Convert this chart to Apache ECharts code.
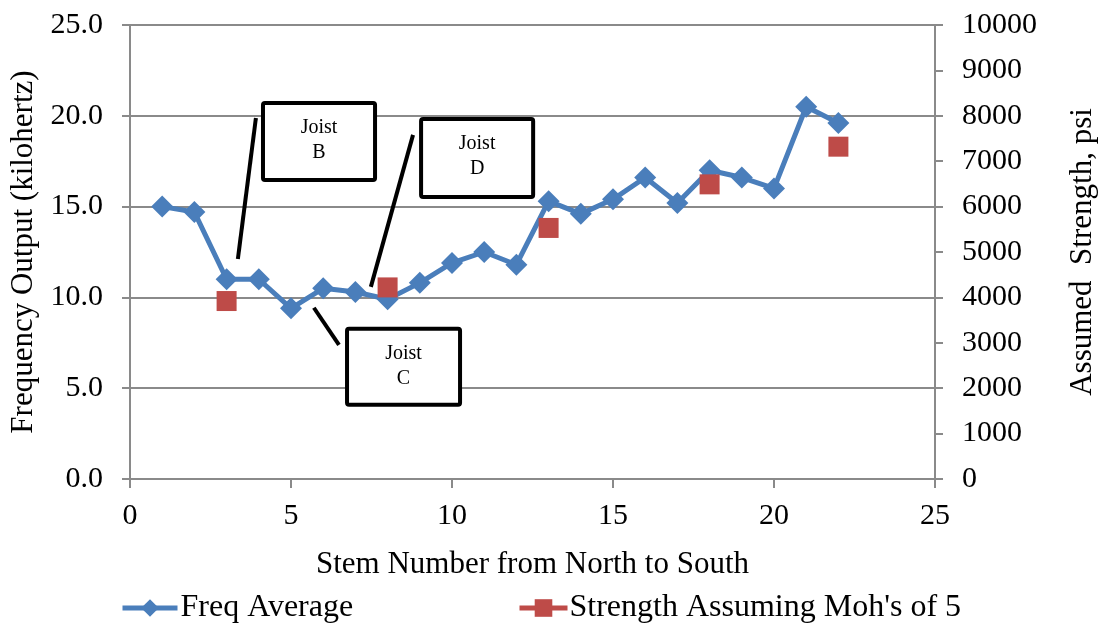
<!DOCTYPE html>
<html>
<head>
<meta charset="utf-8">
<script src="https://cdn.jsdelivr.net/npm/echarts@6/dist/echarts.min.js"></script>
<style>
  html, body { margin: 0; padding: 0; background: #fff; }
  #chart { width: 1100px; height: 624px; }
</style>
</head>
<body>
<div id="chart"></div>
<script>
// ---- data ----
const stems = [1, 2, 3, 4, 5, 6, 7, 8, 9, 10, 11, 12, 13, 14, 15, 16, 17, 18, 19, 20, 21, 22];
const freqAverage = [15.0, 14.7, 11.0, 11.0, 9.4, 10.5, 10.3, 9.9, 10.8, 11.9, 12.5, 11.8, 15.3, 14.6, 15.4, 16.6, 15.2, 17.0, 16.6, 16.0, 20.5, 19.6];
const strengthStems = [3, 8, 13, 18, 22];
const strengthPsi = [3920, 4220, 5530, 6490, 7320];
const seriesNames = ['Freq Average', "Strength Assuming Moh's of 5"];
const joistLabels = ['Joist\nB', 'Joist\nD', 'Joist\nC'];

// annotation placement in data units (x = stem, y = kHz)
const annotations = [
  { box: [4.13, 20.71, 7.61, 16.47], line: [3.91, 19.88, 3.35, 12.12] },
  { box: [9.04, 19.83, 12.52, 15.53], line: [8.79, 18.95, 7.48, 10.58] },
  { box: [6.74, 8.27, 10.25, 4.09], line: [5.71, 9.43, 6.49, 7.39] }
];

const FONT = 'Liberation Serif, Times New Roman, serif';
const AX = '#8a8a8a';
const BLUE = '#4a7ebb';
const RED = '#be4b48';

const chart = echarts.init(document.getElementById('chart'), null, { renderer: 'canvas' });

const freqData = stems.map((s, i) => [s, freqAverage[i]]);
const strData = strengthStems.map((s, i) => [s, strengthPsi[i]]);

const axisText = { fontFamily: FONT, fontSize: 30, color: '#000' };

chart.setOption({
  animation: false,
  backgroundColor: '#fff',
  grid: { left: 130, right: 165, top: 25, bottom: 145, containLabel: false, outerBoundsMode: 'none' },
  xAxis: {
    type: 'value', min: 0, max: 25, interval: 5,
    name: 'Stem Number from North to South', nameLocation: 'middle', nameGap: 70,
    nameTextStyle: { fontFamily: FONT, fontSize: 31, color: '#000' },
    axisLine: { show: true, onZero: false, lineStyle: { color: AX, width: 2 } },
    axisTick: { show: true, length: 9, inside: false, lineStyle: { color: AX, width: 2 } },
    axisLabel: Object.assign({ margin: 22 }, axisText),
    splitLine: { show: false }
  },
  yAxis: [
    {
      type: 'value', min: 0, max: 25, interval: 5, position: 'left',
      name: 'Frequency Output (kilohertz)', nameLocation: 'middle', nameGap: 86,
      nameTextStyle: { fontFamily: FONT, fontSize: 31, color: '#000' },
      axisLine: { show: true, lineStyle: { color: AX, width: 2 } },
      axisTick: { show: true, length: 8, lineStyle: { color: AX, width: 2 } },
      axisLabel: Object.assign({ margin: 27, formatter: v => v.toFixed(1) }, axisText),
      splitLine: { show: true, lineStyle: { color: AX, width: 2 } }
    },
    {
      type: 'value', min: 0, max: 10000, interval: 1000, position: 'right',
      name: 'Assumed  Strength, psi', nameLocation: 'middle', nameGap: 132,
      nameTextStyle: { fontFamily: FONT, fontSize: 31, color: '#000' },
      axisLine: { show: true, lineStyle: { color: AX, width: 2 } },
      axisTick: { show: true, length: 8, lineStyle: { color: AX, width: 2 } },
      axisLabel: Object.assign({ margin: 27, formatter: v => String(v) }, axisText),
      splitLine: { show: false }
    }
  ],
  legend: [
    {
      data: [{ name: seriesNames[0], lineStyle: { width: 5, color: BLUE } }],
      left: 120, top: 592, padding: 0, itemWidth: 55, itemHeight: 22, itemGap: 0,
      textStyle: { fontFamily: FONT, fontSize: 32, color: '#000', padding: [0, 0, 0, -2] }
    },
    {
      data: [{ name: seriesNames[1], lineStyle: { opacity: 1, width: 5, color: RED } }],
      left: 517, top: 592, padding: 0, itemWidth: 48, itemHeight: 22, itemGap: 0,
      textStyle: { fontFamily: FONT, fontSize: 32, color: '#000', padding: [0, 0, 0, -3] }
    }
  ],
  series: [
    {
      name: seriesNames[0], type: 'line', xAxisIndex: 0, yAxisIndex: 0,
      data: freqData, symbol: 'diamond', symbolSize: 22, showAllSymbol: true,
      lineStyle: { color: BLUE, width: 5 }, itemStyle: { color: BLUE },
      z: 3
    },
    {
      name: seriesNames[1], type: 'line', xAxisIndex: 0, yAxisIndex: 1,
      data: strData, symbol: 'rect', symbolSize: 20, showAllSymbol: true,
      lineStyle: { color: RED, width: 5, opacity: 0 }, itemStyle: { color: RED },
      z: 4
    }
  ]
});

// annotations (callout boxes) built from data coordinates
const graphics = [];
annotations.forEach((a, i) => {
  const p1 = chart.convertToPixel({ gridIndex: 0 }, [a.box[0], a.box[1]]);
  const p2 = chart.convertToPixel({ gridIndex: 0 }, [a.box[2], a.box[3]]);
  const l1 = chart.convertToPixel({ gridIndex: 0 }, [a.line[0], a.line[1]]);
  const l2 = chart.convertToPixel({ gridIndex: 0 }, [a.line[2], a.line[3]]);
  graphics.push({
    type: 'line', z: 10,
    shape: { x1: l1[0], y1: l1[1], x2: l2[0], y2: l2[1] },
    style: { stroke: '#000', lineWidth: 4 }
  });
  graphics.push({
    type: 'rect', z: 10,
    shape: { x: p1[0], y: p1[1], width: p2[0] - p1[0], height: p2[1] - p1[1], r: 2 },
    style: { fill: '#fff', stroke: '#000', lineWidth: 4 }
  });
  graphics.push({
    type: 'text', z: 11,
    x: (p1[0] + p2[0]) / 2, y: p1[1] + 12,
    style: {
      text: joistLabels[i], fontFamily: FONT, fontSize: 20, fill: '#000',
      align: 'center', verticalAlign: 'top', lineHeight: 25
    }
  });
});
chart.setOption({ graphic: graphics });
</script>
</body>
</html>
